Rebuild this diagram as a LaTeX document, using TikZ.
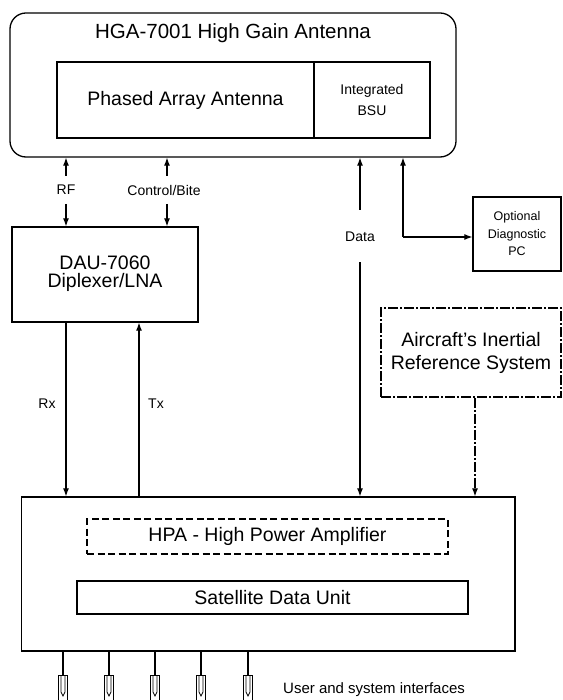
\documentclass[tikz,border=0pt]{standalone}
\usepackage{fontspec}
\setmainfont{Liberation Sans}
\usetikzlibrary{arrows.meta}
\tikzset{
  box/.style={draw, line width=1.3pt, inner sep=0pt},
  arr/.style={line width=1.1pt, -{Latex[length=8pt,width=6pt]}},
  ln/.style={line width=1.1pt},
  lbl/.style={inner sep=0pt, font=\fontsize{14}{16}\selectfont},
  big/.style={inner sep=0pt, font=\fontsize{19.5}{23}\selectfont, align=center},
  dashdot/.style={dash pattern=on 10pt off 2pt on 2pt off 2pt},
  plug/.style={draw, line width=1pt, minimum width=9pt, minimum height=26pt, inner sep=0pt}
}
\begin{document}
\begin{tikzpicture}[x=1pt,y=-1pt]
\useasboundingbox (0,0) rectangle (562,700);
\clip (0,0) rectangle (562,700);
% HGA
\node[box, rounded corners=16pt, minimum width=446pt, minimum height=144pt] (hga) at (233,85) {};
\node[inner sep=0pt, font=\fontsize{20.5}{24}\selectfont] (title) at (233,33) {HGA-7001 High Gain Antenna};
\node[box, minimum width=257pt, minimum height=76pt, font=\fontsize{19.5}{23}\selectfont] (paa) at (185.5,100) {Phased Array Antenna};
\node[box, minimum width=116pt, minimum height=76pt, align=center, font=\fontsize{14}{21}\selectfont] (bsu) at (372,100) {Integrated\\BSU};
% DAU
\node[box, minimum width=186pt, minimum height=95pt, big] (dau) at (105,274.5) {};
\node[big, font=\fontsize{19.5}{18}\selectfont] (daut) at (105,274) {DAU-7060\\Diplexer/LNA};
% RF
\coordinate (rf1) at (66,176);
\coordinate (rf2) at (66,204);
\draw[arr] (rf1) -- (rf1 |- hga.south);
\node[lbl] (rfl) at (66,190) {RF};
\draw[arr] (rf2) -- (rf2 |- dau.north);
% Control/Bite
\coordinate (cb1) at (167,176);
\coordinate (cb2) at (167,204);
\draw[arr] (cb1) -- (cb1 |- hga.south);
\node[lbl] (cbl) at (164,190) {Control/Bite};
\draw[arr] (cb2) -- (cb2 |- dau.north);
% HPA
\node[box, minimum width=493.5pt, minimum height=154pt] (hpa) at (268.25,574) {};
\node[draw, line width=1.4pt, dash pattern=on 7pt off 3.5pt, minimum width=361pt, minimum height=35pt, inner sep=0pt, font=\fontsize{19.5}{23}\selectfont] (amp) at (267.5,536.5) {HPA - High Power Amplifier};
\node[draw, line width=2pt, minimum width=391pt, minimum height=33pt, inner sep=0pt, font=\fontsize{19.5}{23}\selectfont] (sdu) at (272.5,597.5) {Satellite Data Unit};
% Rx / Tx
\coordinate (rx) at (66,0);
\coordinate (tx) at (139,0);
\draw[arr] (rx |- dau.south) -- (rx |- hpa.north);
\draw[arr] (tx |- hpa.north) -- (tx |- dau.south);
\node[lbl] (rxl) at (47,404) {Rx};
\node[lbl] (txl) at (156,404) {Tx};
% Data
\coordinate (d1) at (360,210);
\coordinate (d2) at (360,262);
\draw[arr] (d1) -- (d1 |- hga.south);
\node[lbl] (datal) at (360,237) {Data};
\draw[arr] (d2) -- (d2 |- hpa.north);
% Optional diagnostic PC
\node[box, minimum width=88pt, minimum height=74pt, align=center, font=\fontsize{12.5}{17.5}\selectfont] (opt) at (517,234) {Optional\\Diagnostic\\PC};
\coordinate (c) at (403,237);
\draw[arr] (c) -- (c |- hga.south);
\draw[arr] (c) -- (c -| opt.west);
% Aircraft IRS
\node[draw, line width=1.5pt, dashdot, minimum width=180pt, minimum height=89pt, inner sep=0pt, align=center, font=\fontsize{19.5}{23}\selectfont] (irs) at (471,352.5) {Aircraft's Inertial\\Reference System};
\coordinate (ir) at (475,0);
\draw[arr, dashdot] (ir |- irs.south) -- (ir |- hpa.north);
% interfaces
\foreach \i/\x in {1/63,2/109,3/155,4/201,5/248}{
  \coordinate (p\i) at (\x,675);
  \draw[ln] (p\i |- hpa.south) -- (p\i);
  \node[plug, anchor=north] (plug\i) at (p\i) {};
  \draw[line width=0.8pt] (\x-2,675) -- (\x-2,692) -- (\x,696) -- (\x+2,692) -- (\x+2,675);
}
\node[inner sep=0pt, anchor=west, font=\fontsize{15}{18}\selectfont] (ui) at (283,690) {User and system interfaces};
\end{tikzpicture}
\end{document}
